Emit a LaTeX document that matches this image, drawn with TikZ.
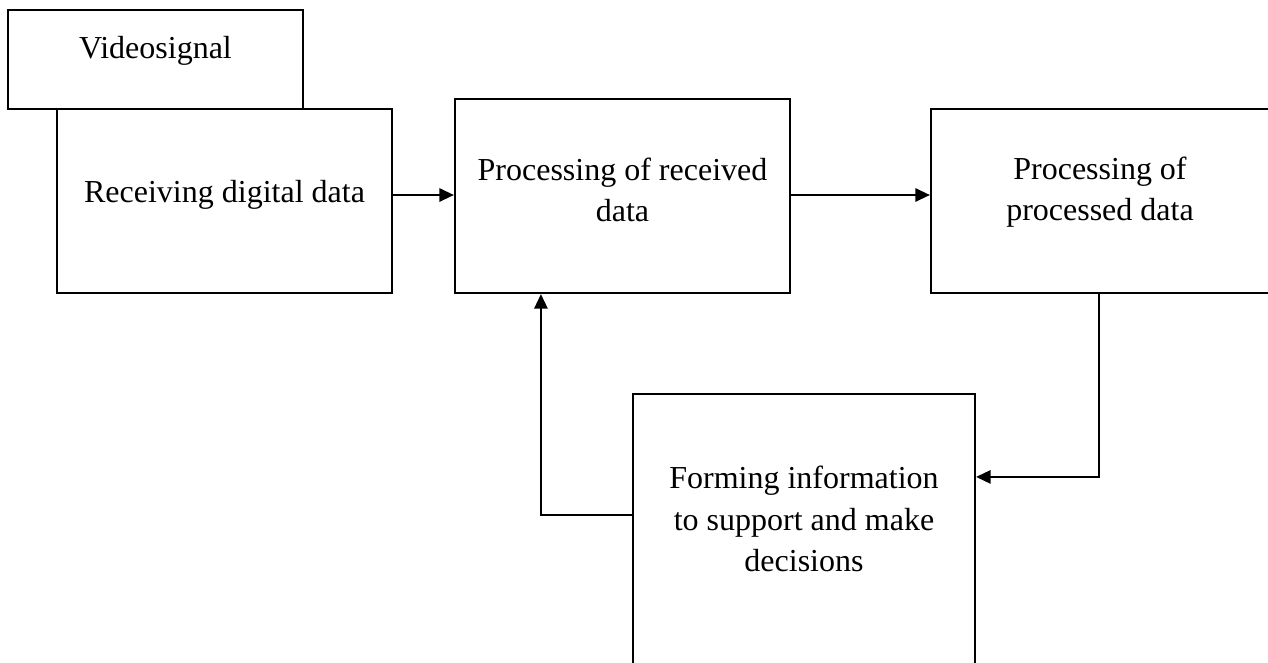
\documentclass[tikz,border=0pt]{standalone}
\usepackage{fontspec}
\setmainfont{Liberation Serif}
\usetikzlibrary{arrows.meta,calc}
\begin{document}
\begin{tikzpicture}[x=0.75pt,y=-0.75pt,
  box/.style={draw,line width=1.6pt,rectangle,inner sep=0pt,fill=white},
  txt/.style={align=center,font=\fontsize{24}{31}\selectfont,inner sep=0pt},
  arr/.style={line width=1.6pt,-{Triangle[length=11pt,width=10pt]}},
  conn/.style={line width=1.6pt}]
\useasboundingbox (0,0) rectangle (1268,662);
% boxes
\node[box,minimum width=295*0.75pt,minimum height=99*0.75pt] (vs) at (155.5,59.5) {};
\node[box,minimum width=335*0.75pt,minimum height=184*0.75pt] (rx) at (224.5,201) {};
\node[box,minimum width=335*0.75pt,minimum height=194*0.75pt] (pr) at (622.5,196) {};
\node[box,minimum width=360*0.75pt,minimum height=184*0.75pt] (pp) at (1111,201) {};
\node[box,minimum width=342*0.75pt,minimum height=320*0.75pt] (fm) at (804,554) {};
% texts
\node[txt] (vst) at (155.5,51) {Videosignal};
\node[txt] (rxt) at (224.5,195) {Receiving digital data};
\node[txt] (prt) at (622.5,190) {Processing of received\\data};
\node[txt] (ppt) at (1100,192) {Processing of\\processed data};
\node[txt] (fmt) at (804,519) {Forming information\\to support and make\\decisions};
% connectors
\draw[arr] (rx.east |- rxt) -- (pr.west |- rxt);
\draw[arr] (pr.east |- rxt) -- (pp.west |- rxt);
\coordinate (ppout) at ($(pp.south west)+(169,0)$);
\coordinate (fmin) at ($(fm.north east)+(0,84)$);
\draw[arr] (ppout) |- (fmin);
\coordinate (fmout) at ($(fm.north west)+(0,122)$);
\coordinate (prin) at ($(pr.south west)+(87,0)$);
\draw[arr] (fmout) -| (prin);
\end{tikzpicture}
\end{document}
